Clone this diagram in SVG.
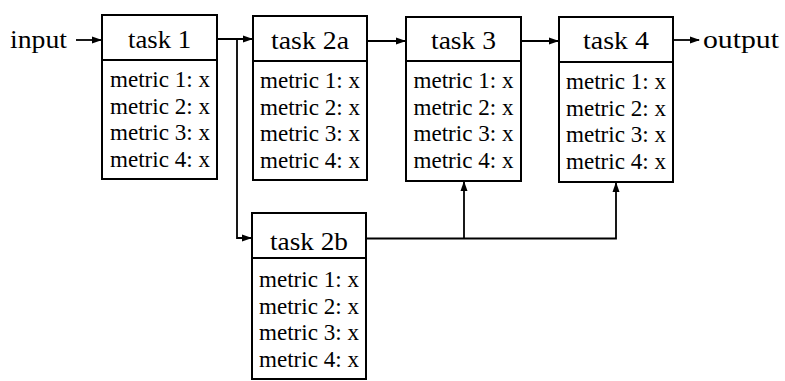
<svg xmlns="http://www.w3.org/2000/svg" width="785" height="381" viewBox="0 0 785 381">
<style>
.box{fill:#fff;stroke:#000;stroke-width:2}
.div{stroke:#000;stroke-width:2.2}
.hd{font-family:"Liberation Serif",serif;font-size:25px;fill:#000;text-anchor:middle}
.lb{font-family:"Liberation Serif",serif;font-size:25px;fill:#000}
.mt{font-family:"Liberation Serif",serif;font-size:23px;fill:#000;text-anchor:middle}
.cn{fill:none;stroke:#000;stroke-width:1.8}
</style>
<defs>
<marker id="ah" markerUnits="userSpaceOnUse" markerWidth="10" markerHeight="8" refX="9" refY="4" orient="auto">
<path d="M0,0.5 L10,4 L0,7.5 z" fill="#000"/>
</marker>
</defs>
<rect width="785" height="381" fill="#fff"/>
<g id="connectors">
<line class="cn" x1="76" y1="40" x2="101" y2="40" marker-end="url(#ah)"/>
<line class="cn" x1="217" y1="39" x2="252" y2="39" marker-end="url(#ah)"/>
<polyline class="cn" points="237,39 237,238 251,238" marker-end="url(#ah)"/>
<line class="cn" x1="367" y1="41" x2="405" y2="41" marker-end="url(#ah)"/>
<line class="cn" x1="521" y1="41" x2="558" y2="41" marker-end="url(#ah)"/>
<line class="cn" x1="673" y1="40" x2="699" y2="40" marker-end="url(#ah)"/>
<polyline class="cn" points="366,238.5 616,238.5 616,183" marker-end="url(#ah)"/>
<line class="cn" x1="464" y1="238.5" x2="464" y2="182" marker-end="url(#ah)"/>
</g>
<text class="lb" x="10" y="48" textLength="57" lengthAdjust="spacingAndGlyphs">input</text>
<text class="lb" x="703" y="48" textLength="76" lengthAdjust="spacingAndGlyphs">output</text>
<g id="task1">
<rect class="box" x="102" y="15" width="115" height="164"/>
<line class="div" x1="102" y1="60" x2="217" y2="60"/>
<text class="hd" x="159.5" y="48" textLength="63" lengthAdjust="spacingAndGlyphs">task 1</text>
<text class="mt" x="160" y="87" textLength="100" lengthAdjust="spacingAndGlyphs">metric 1: x</text>
<text class="mt" x="160" y="113.5" textLength="100" lengthAdjust="spacingAndGlyphs">metric 2: x</text>
<text class="mt" x="160" y="140" textLength="100" lengthAdjust="spacingAndGlyphs">metric 3: x</text>
<text class="mt" x="160" y="166.5" textLength="100" lengthAdjust="spacingAndGlyphs">metric 4: x</text>
</g>
<g id="task2a">
<rect class="box" x="253" y="16" width="114" height="164"/>
<line class="div" x1="253" y1="61" x2="367" y2="61"/>
<text class="hd" x="310" y="49" textLength="78" lengthAdjust="spacingAndGlyphs">task 2a</text>
<text class="mt" x="310" y="88" textLength="100" lengthAdjust="spacingAndGlyphs">metric 1: x</text>
<text class="mt" x="310" y="114.5" textLength="100" lengthAdjust="spacingAndGlyphs">metric 2: x</text>
<text class="mt" x="310" y="141" textLength="100" lengthAdjust="spacingAndGlyphs">metric 3: x</text>
<text class="mt" x="310" y="167.5" textLength="100" lengthAdjust="spacingAndGlyphs">metric 4: x</text>
</g>
<g id="task3">
<rect class="box" x="406" y="17" width="115" height="164"/>
<line class="div" x1="406" y1="61" x2="521" y2="61"/>
<text class="hd" x="463.5" y="49" textLength="65" lengthAdjust="spacingAndGlyphs">task 3</text>
<text class="mt" x="463.5" y="88" textLength="100" lengthAdjust="spacingAndGlyphs">metric 1: x</text>
<text class="mt" x="463.5" y="114.5" textLength="100" lengthAdjust="spacingAndGlyphs">metric 2: x</text>
<text class="mt" x="463.5" y="141" textLength="100" lengthAdjust="spacingAndGlyphs">metric 3: x</text>
<text class="mt" x="463.5" y="167.5" textLength="100" lengthAdjust="spacingAndGlyphs">metric 4: x</text>
</g>
<g id="task4">
<rect class="box" x="559" y="17" width="114" height="165"/>
<line class="div" x1="559" y1="62" x2="673" y2="62"/>
<text class="hd" x="616" y="49" textLength="66" lengthAdjust="spacingAndGlyphs">task 4</text>
<text class="mt" x="616" y="89" textLength="100" lengthAdjust="spacingAndGlyphs">metric 1: x</text>
<text class="mt" x="616" y="115.5" textLength="100" lengthAdjust="spacingAndGlyphs">metric 2: x</text>
<text class="mt" x="616" y="142" textLength="100" lengthAdjust="spacingAndGlyphs">metric 3: x</text>
<text class="mt" x="616" y="168.5" textLength="100" lengthAdjust="spacingAndGlyphs">metric 4: x</text>
</g>
<g id="task2b">
<rect class="box" x="252" y="213" width="114" height="166"/>
<line class="div" x1="252" y1="258" x2="366" y2="258"/>
<text class="hd" x="309" y="250" textLength="78" lengthAdjust="spacingAndGlyphs">task 2b</text>
<text class="mt" x="309" y="287" textLength="100" lengthAdjust="spacingAndGlyphs">metric 1: x</text>
<text class="mt" x="309" y="313.5" textLength="100" lengthAdjust="spacingAndGlyphs">metric 2: x</text>
<text class="mt" x="309" y="340" textLength="100" lengthAdjust="spacingAndGlyphs">metric 3: x</text>
<text class="mt" x="309" y="366.5" textLength="100" lengthAdjust="spacingAndGlyphs">metric 4: x</text>
</g>
</svg>
